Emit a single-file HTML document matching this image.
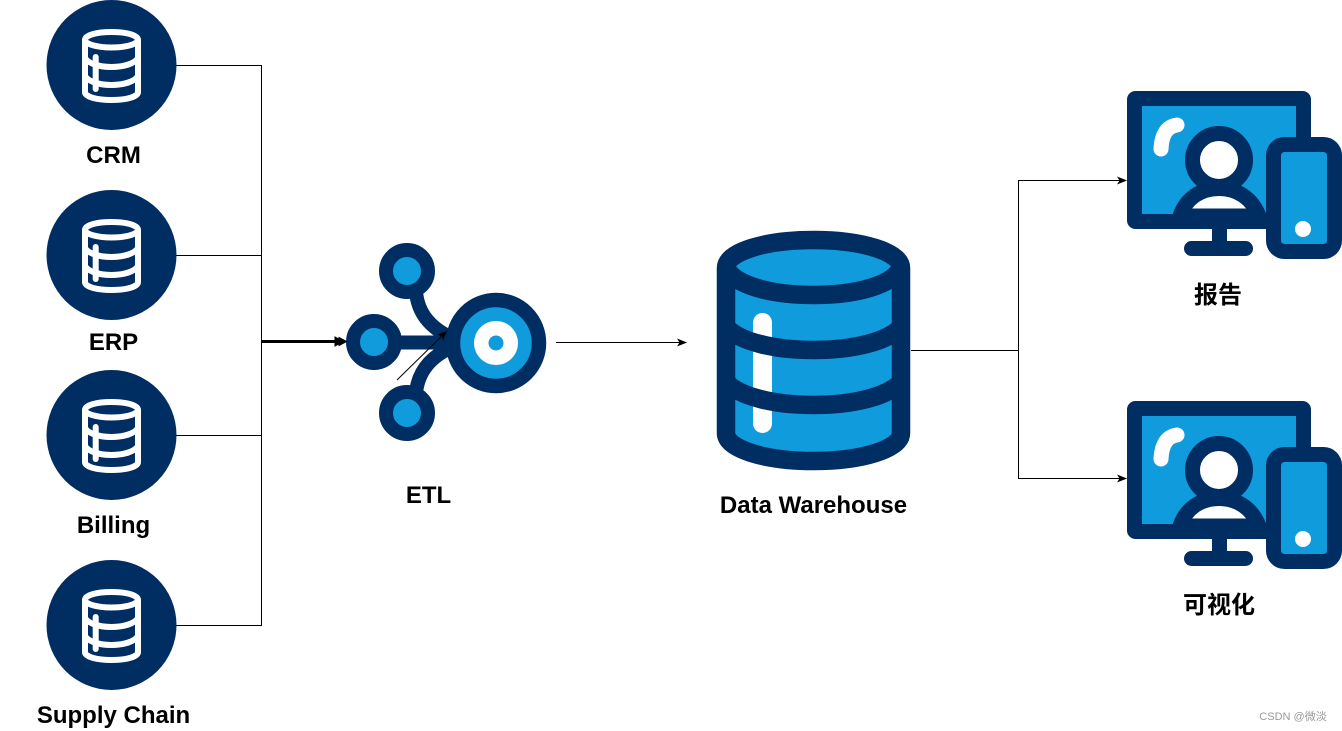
<!DOCTYPE html>
<html><head><meta charset="utf-8">
<style>
html,body{margin:0;padding:0;background:#fff;width:1342px;height:731px;overflow:hidden}
svg{display:block}
text{font-family:"Liberation Sans","Noto Sans CJK SC",sans-serif;font-weight:bold;font-size:24px;fill:#000;text-anchor:middle}
</style></head><body>
<svg width="1342" height="731" viewBox="0 0 1342 731" xmlns="http://www.w3.org/2000/svg">
<defs>
<marker id="a" markerWidth="10" markerHeight="8" refX="9" refY="4" orient="auto" markerUnits="userSpaceOnUse"><path d="M0 0L10 4L0 8L2.500 4Z" fill="#000"/></marker>
<g id="db">
<circle cx="111.500" cy="65" r="65" fill="#002d62"/>
<g fill="none" stroke="#fff" stroke-width="6" stroke-linecap="round" stroke-linejoin="round">
<path d="M85 40C85 35 97 32 111.500 32C126 32 138 35 138 40C138 44 126 47.500 111.500 47.500C97 47.500 85 44 85 40Z"/>
<path d="M85 40V92C85 97 97 100 111.500 100C126 100 138 97 138 92V40"/>
<path d="M85 58C88 63 98 67 111.500 67C125 67 135 63 138 58"/>
<path d="M85 76C88 81 98 85 111.500 85C125 85 135 81 138 76"/>
<path d="M95.700 57V89"/>
</g>
</g>
<g id="screen">
<rect x="1134.500" y="98.500" width="169" height="123" rx="1" fill="#109cdc" stroke="#002d62" stroke-width="15" stroke-linejoin="round"/>
<path d="M1161 149Q1162 127 1177 125" fill="none" stroke="#fff" stroke-width="15" stroke-linecap="round"/>
<path d="M1180 216C1186 198 1201 188.500 1219 188.500C1237 188.500 1252 198 1259 216Z" fill="#fff" stroke="#002d62" stroke-width="15" stroke-linejoin="round"/>
<circle cx="1219" cy="160" r="26.500" fill="#fff" stroke="#002d62" stroke-width="15"/>
<rect x="1212" y="225" width="15" height="20" fill="#002d62"/>
<rect x="1184" y="241" width="69" height="15" rx="7.500" fill="#002d62"/>
<rect x="1273.500" y="144.500" width="61" height="107" rx="11" fill="#109cdc" stroke="#002d62" stroke-width="15"/>
<circle cx="1303" cy="229" r="8" fill="#fff"/>
</g>
</defs>

<use href="#db"/>
<use href="#db" y="190"/>
<use href="#db" y="370"/>
<use href="#db" y="560"/>

<g fill="none" stroke="#000" stroke-width="1">
<path d="M176 65.500H261.500V625.500H176"/>
<path d="M176 255.500H261.500"/>
<path d="M176 435.500H261.500"/>
</g>
<path d="M262 341.500H340" stroke="#000" stroke-width="3" fill="none"/>

<!-- ETL -->
<g fill="none" stroke="#002d62" stroke-width="14">
<path d="M416 292C418 313 430 328 452 338"/>
<path d="M374 342.500H460"/>
<path d="M416 393C418 372 430 357 452 347"/>
</g>
<circle cx="407" cy="271" r="21" fill="#109cdc" stroke="#002d62" stroke-width="14"/>
<circle cx="374" cy="342" r="21" fill="#109cdc" stroke="#002d62" stroke-width="14"/>
<circle cx="407" cy="413" r="21" fill="#109cdc" stroke="#002d62" stroke-width="14"/>
<circle cx="496" cy="343" r="43" fill="#109cdc" stroke="#002d62" stroke-width="14.500"/>
<circle cx="496" cy="343" r="22" fill="#fff"/>
<circle cx="496" cy="343" r="7.500" fill="#109cdc"/>
<path d="M346.500 341.500L339 337.500V345.500Z" fill="#000" stroke="#000" stroke-width="1"/>
<path d="M343 341.500L335 337V346Z" fill="#000" stroke="#000" stroke-width="1"/>
<path d="M397 380L446.500 331.500" stroke="#000" stroke-width="1" fill="none" marker-end="url(#a)"/>
<path d="M556 342.500H686" stroke="#000" stroke-width="1" fill="none" marker-end="url(#a)"/>

<!-- Warehouse -->
<path d="M726 268C726 252 765 240 813.500 240C862 240 901 252 901 268V433C901 449 862 461 813.500 461C765 461 726 449 726 433Z" fill="#109cdc"/>
<rect x="753" y="313" width="19" height="120" rx="9.500" fill="#fff"/>
<g fill="none" stroke="#002d62" stroke-width="18.500">
<path d="M726 268C726 252 765 240 813.500 240C862 240 901 252 901 268V433C901 449 862 461 813.500 461C765 461 726 449 726 433Z"/>
<path d="M726 268C735 285 770 295 813.500 295C857 295 892 285 901 268"/>
<path d="M726 327C740 342 775 350 813.500 350C852 350 887 342 901 327"/>
<path d="M726 382C740 397 775 405 813.500 405C852 405 887 397 901 382"/>
</g>

<g fill="none" stroke="#000" stroke-width="1">
<path d="M911 350.500H1018.500"/>
<path d="M1018.500 350.500V180.500H1126" marker-end="url(#a)"/>
<path d="M1018.500 350.500V478.500H1126" marker-end="url(#a)"/>
</g>

<use href="#screen"/>
<use href="#screen" y="310"/>

<text x="113.500" y="163">CRM</text>
<text x="113.500" y="350">ERP</text>
<text x="113.500" y="533">Billing</text>
<text x="113.500" y="723">Supply Chain</text>
<text x="428.500" y="503">ETL</text>
<text x="813.500" y="513">Data Warehouse</text>
<text x="1218" y="303">报告</text>
<text x="1219" y="613">可视化</text>
<text x="1293" y="720" style="font-size:11px;font-weight:normal;fill:#999">CSDN @微淡</text>
</svg>
</body></html>
